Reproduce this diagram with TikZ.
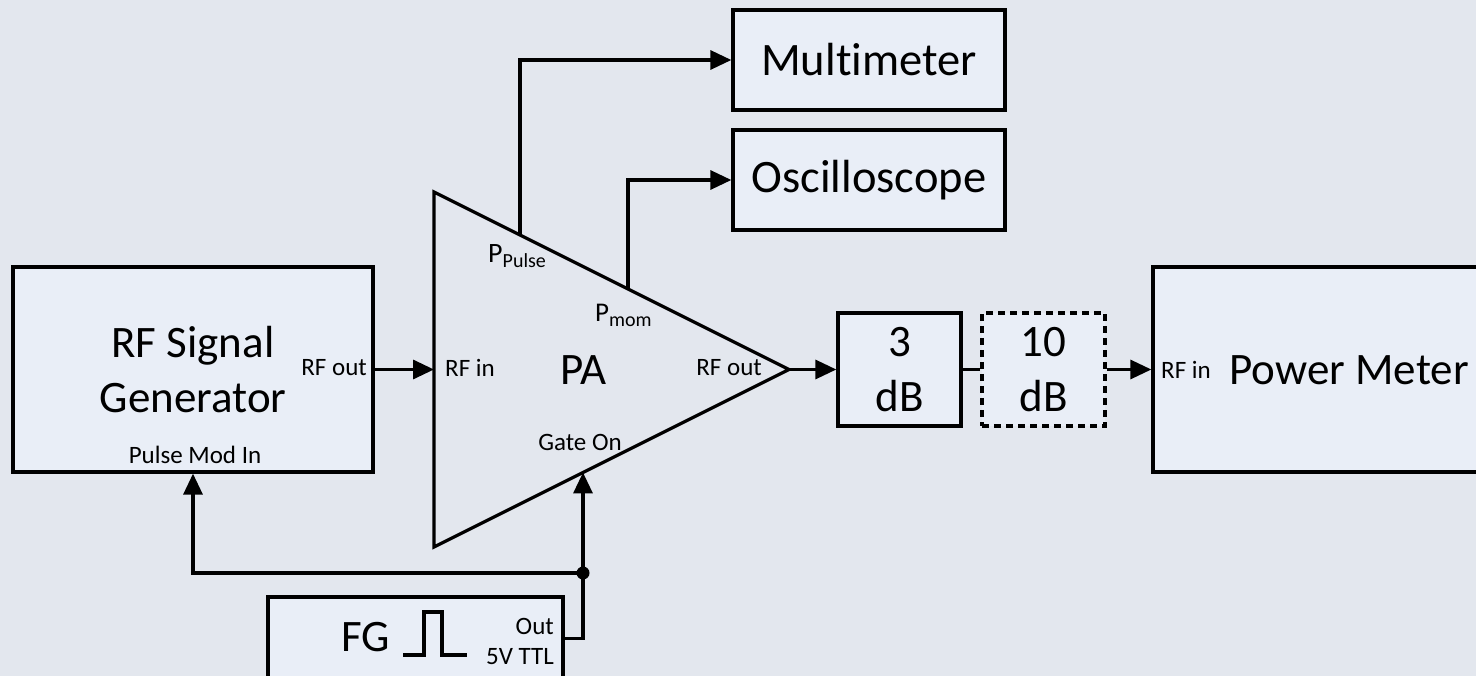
\documentclass[tikz,border=0pt]{standalone}
\usepackage{fontspec}
\setmainfont{Carlito}[Ligatures=NoCommon]
\usetikzlibrary{arrows.meta,calc}
\definecolor{bg}{RGB}{227,231,238}
\definecolor{boxfill}{RGB}{233,238,247}
\newcommand\fbig{\fontsize{45}{55}\selectfont}
\newcommand\fmid{\fontsize{46.5}{55}\selectfont}
\newcommand\fsmall{\fontsize{25}{30}\selectfont}
\newcommand\fsubs{\fontsize{20}{20}\selectfont}
\begin{document}
\begin{tikzpicture}[x=1pt,y=-1pt,
  wire/.style={line width=3.3pt},
  arr/.style={wire,-{Triangle[length=21pt,width=19pt]}},
  box/.style={draw, line width=3.3pt, fill=boxfill, inner sep=0pt},
  lbl/.style={font=\fsmall, inner sep=0pt}]
\path[use as bounding box, fill=bg] (0,0) rectangle (1476,676);
\clip (0,0) rectangle (1476,676);

% RF signal generator
\node[box, minimum width=360pt, minimum height=205pt, font=\fbig, align=center] (gen) at (193,369.5) {RF Signal\\Generator};
\node[lbl, anchor=east] (genout) at (367,368) {RF out};
\node[lbl] (genpm) at (195,455) {Pulse Mod In};

% PA triangle
\coordinate (paT) at (434,192);
\coordinate (paB) at (434,547);
\coordinate (paR) at (789,369.5);
\draw[wire, line join=miter] (paT) -- (paR) -- (paB) -- cycle;
\coordinate (paIn) at ($(paT)!0.5!(paB)$);
\coordinate (tapP) at ($(paT)!0.2423!(paR)$);
\coordinate (tapM) at ($(paT)!0.5465!(paR)$);
\coordinate (gate) at ($(paB)!0.42!(paR)$);
\node[font=\fbig] (pa) at (583,370) {PA};
\node[lbl, anchor=west] (pain) at (445,368) {RF in};
\node[lbl, anchor=east] (paout) at (762,368) {RF out};
\node[lbl] (pagate) at (580,442) {Gate On};
\node[inner sep=0pt, anchor=base west, font=\fontsize{28}{28}\selectfont] (ppulse) at (488,263) {P\raisebox{-5pt}{\fsubs Pulse}};
\node[inner sep=0pt, anchor=base west, font=\fontsize{27}{27}\selectfont] (pmom) at (595,322) {P\raisebox{-5pt}{\fsubs mom}};

% Measurement instruments
\node[box, minimum width=272pt, minimum height=100pt, font=\fmid] (mm) at (869,60) {Multimeter};
\node[box, minimum width=272pt, minimum height=100pt, font=\fmid] (osc) at (869,180) {Oscilloscope};
\draw[arr] (tapP) |- (mm.west);
\draw[arr] (tapM) |- (osc.west);

% Function generator
\node[box, minimum width=295pt, minimum height=130pt] (fg) at (415.5,662) {};
\node[font=\fbig, inner sep=0pt] (fgt) at (366,637) {FG};
\draw[wire, line join=miter] (403,655) -- (424,655) -- (424,612) -- (442,612) -- (442,655) -- (467,655);
\node[lbl, anchor=east] (fgout) at (554,626) {Out};
\node[lbl, anchor=east] (fgttl) at (554,657) {5V TTL};
\coordinate (jn) at (583,573);
\draw[wire] (fg.north east) ++(0,43) -| (jn);
\draw[arr] (jn) -- (jn |- gate);
\draw[arr] (jn) -| (gen.south);
\fill (jn) circle (6.5);

% Attenuators and power meter
\node[box, minimum width=123pt, minimum height=113pt, font=\fbig, align=center] (db3) at (899.5,369.5) {3\\dB};
\node[box, dash pattern=on 7pt off 5pt, minimum width=123pt, minimum height=113pt, font=\fbig, align=center] (db10) at (1043.5,369.5) {10\\dB};
\node[box, minimum width=347pt, minimum height=205pt] (pm) at (1326.5,369.5) {};
\node[font=\fbig, inner sep=0pt] (pmt) at (1349,370) {Power Meter};
\node[lbl] (pmin) at (1186,370) {RF in};
\draw[arr] (gen.east) -- (paIn);
\draw[arr] (paR) -- (db3.west);
\draw[wire] (db3.east) -- (db10.west);
\draw[arr] (db10.east) -- (pm.west);
\end{tikzpicture}
\end{document}
